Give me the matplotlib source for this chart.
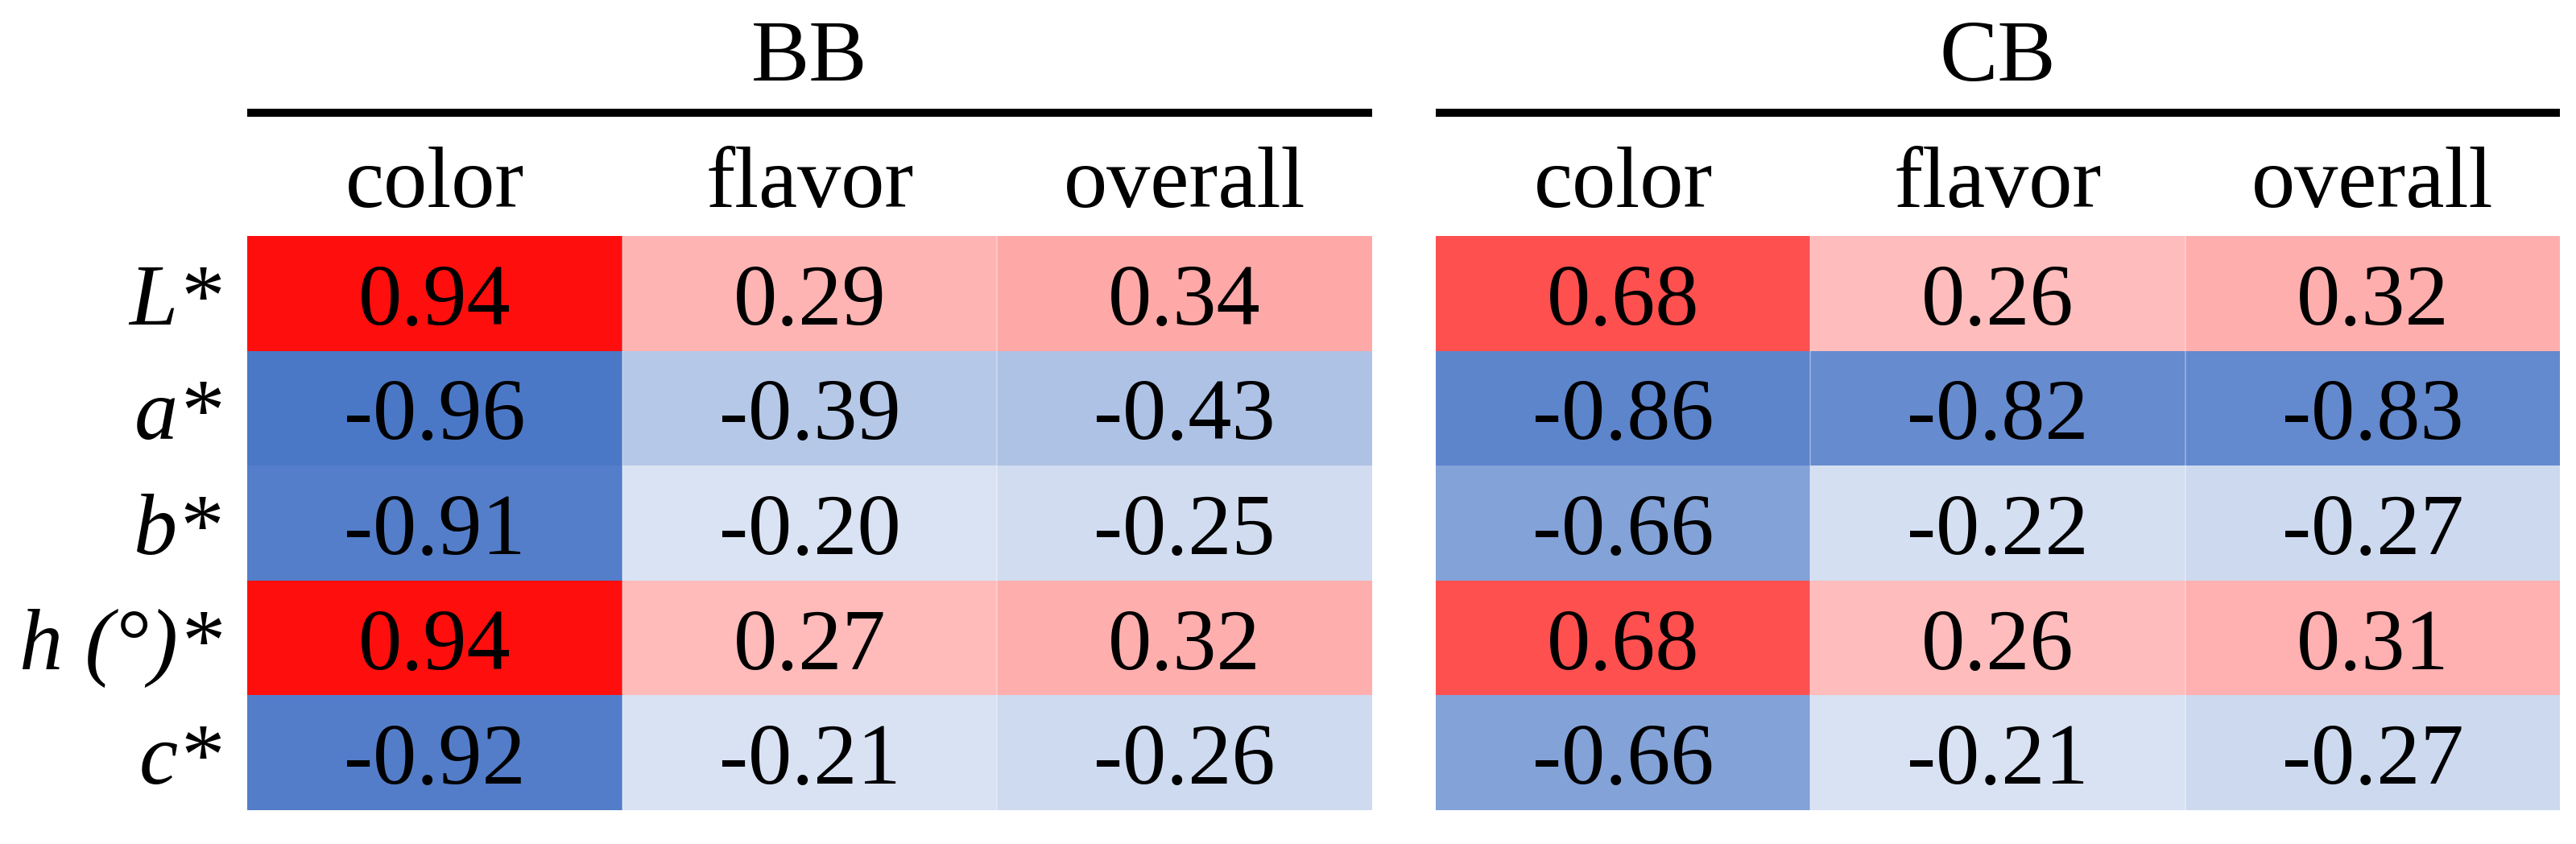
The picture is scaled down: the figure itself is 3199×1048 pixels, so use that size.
import numpy as np
import matplotlib
matplotlib.use("Agg")
import matplotlib.pyplot as plt
from matplotlib.colors import LinearSegmentedColormap

# correlation data
groups = ["BB", "CB"]
columns = ["color", "flavor", "overall"]
row_labels = ["L*", "a*", "b*", "h (°)*", "c*"]

bb_values = [
    [0.94, 0.29, 0.34],
    [-0.96, -0.39, -0.43],
    [-0.91, -0.20, -0.25],
    [0.94, 0.27, 0.32],
    [-0.92, -0.21, -0.26],
]
cb_values = [
    [0.68, 0.26, 0.32],
    [-0.86, -0.82, -0.83],
    [-0.66, -0.22, -0.27],
    [0.68, 0.26, 0.31],
    [-0.66, -0.21, -0.27],
]

plt.rcParams['font.family'] = ['Liberation Serif', 'DejaVu Serif']

# excel style 3-colour scale (blue - white - red)
cmap = LinearSegmentedColormap.from_list('excel', ['#4472C4', '#FFFFFF', '#FF0000'])

W, H = 3199, 1048
fig = plt.figure(figsize=(W / 100, H / 100), dpi=100)

# table geometry in pixels
top, bottom = 293, 1006
lefts = [307, 1783]
rights = [1704, 3179]
fs = 78
baseline = 0.77

for k, (name, vals) in enumerate(zip(groups, [bb_values, cb_values])):
    ax = fig.add_axes([lefts[k] / W, (H - bottom) / H,
                       (rights[k] - lefts[k]) / W, (bottom - top) / H])
    data = np.array(vals)
    ax.pcolormesh(np.arange(4), np.arange(6), data, cmap=cmap, vmin=-1, vmax=1,
                  edgecolors='none')
    ax.set_xlim(0, 3)
    ax.set_ylim(5, 0)
    ax.axis('off')

    # faint lighter seams between columns
    for x in [1, 2]:
        ax.axvline(x, color='white', alpha=0.35, lw=1.2)

    for i in range(data.shape[0]):
        for j in range(data.shape[1]):
            ax.text(j + 0.5, i + baseline, f"{data[i, j]:.2f}", ha='center',
                    va='baseline', fontsize=fs)

    # column headers
    for j, c in enumerate(columns):
        ax.text(j + 0.5, -0.2525, c, ha='center', va='baseline', fontsize=fs)

    # group title and rule
    ax.text(1.5, -1.353, name, ha='center', va='baseline', fontsize=fs)
    ax.plot([0, 3], [-1.073, -1.073], color='black', lw=7.2, clip_on=False,
            solid_capstyle='butt')

    # row labels only on the left table
    if k == 0:
        for i, lab in enumerate(row_labels):
            ax.text(-0.069, i + baseline, lab, ha='right', va='baseline',
                    fontsize=fs, fontstyle='italic')

fig.savefig("out.png", dpi=100)
